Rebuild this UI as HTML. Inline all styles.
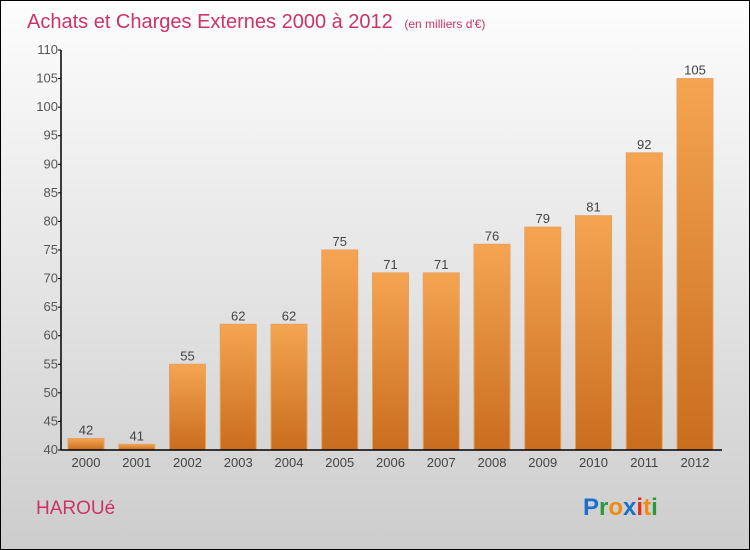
<!DOCTYPE html>
<html><head><meta charset="utf-8"><style>
html,body{margin:0;padding:0}
body{width:750px;height:550px;overflow:hidden;font-family:"Liberation Sans",sans-serif}
#frame{position:absolute;left:0;top:0;width:748px;height:548px;border:1px solid #000;background:linear-gradient(#fdfdfd,#cdcdcd)}
</style></head><body>
<div id="frame"></div>
<svg id="c" width="750" height="550" style="position:absolute;left:0;top:0">
<defs>
<linearGradient id="bg" x1="0" y1="0" x2="0" y2="1"><stop offset="0" stop-color="#f5a552"/><stop offset="1" stop-color="#c96d1e"/></linearGradient>
</defs>
<text x="27" y="28" font-size="20" fill="#cc3366">Achats et Charges Externes 2000 à 2012 <tspan font-size="12" dx="6">(en milliers d'€)</tspan></text>
<text x="36" y="514" font-size="19" fill="#cc3366">HAROUé</text>
<g font-size="24" font-weight="bold">
<text x="583" y="515"><tspan fill="#1a6fcf">P</tspan><tspan fill="#2a9a3a">r</tspan><tspan fill="#f08a10">o</tspan><tspan fill="#1a6fcf">x</tspan><tspan fill="#e03020">i</tspan><tspan fill="#f08a10">t</tspan><tspan fill="#2a9a3a">i</tspan></text>
</g>
</svg>
<script>
const categories=["2000","2001","2002","2003","2004","2005","2006","2007","2008","2009","2010","2011","2012"];
const values=[42,41,55,62,62,75,71,71,76,79,81,92,105];
const yTicks=[40,45,50,55,60,65,70,75,80,85,90,95,100,105,110];
const svg=document.getElementById('c');
const NS='http://www.w3.org/2000/svg';
const yMin=40,yMax=110,y0=450,y1=50;
function y(v){return y0-(v-yMin)/(yMax-yMin)*(y0-y1);}
function x(i){return 86+i*50.75;}
function mk(t,a){const e=document.createElementNS(NS,t);for(const k in a)e.setAttribute(k,a[k]);svg.appendChild(e);return e;}
values.forEach((v,i)=>{
  const r=mk('rect',{x:x(i)-18,y:y(v),width:36,height:y0-y(v),fill:'url(#bg)',stroke:'#e8a060','stroke-width':1});
  
  
  const t=mk('text',{x:x(i),y:y(v)-4,'font-size':13,'text-anchor':'middle',fill:'#444'});
  t.textContent=v;
  
  
  const c=mk('text',{x:x(i),y:467,'font-size':13,'text-anchor':'middle',fill:'#444'});
  c.textContent=categories[i];
  
  
});
yTicks.forEach(v=>{
  mk('line',{x1:58,x2:61,y1:y(v),y2:y(v),stroke:'#000'});
  const t=mk('text',{x:58,y:y(v)+4,'font-size':13,'text-anchor':'end',fill:'#555'});
  t.textContent=v;
  
  
});
const ya=mk('line',{x1:61,x2:61,y1:y1,y2:y0,stroke:'#000','stroke-width':1.5});


const xa=mk('line',{x1:61,x2:722,y1:y0,y2:y0,stroke:'#000','stroke-width':1.5});


</script>
</body></html>
